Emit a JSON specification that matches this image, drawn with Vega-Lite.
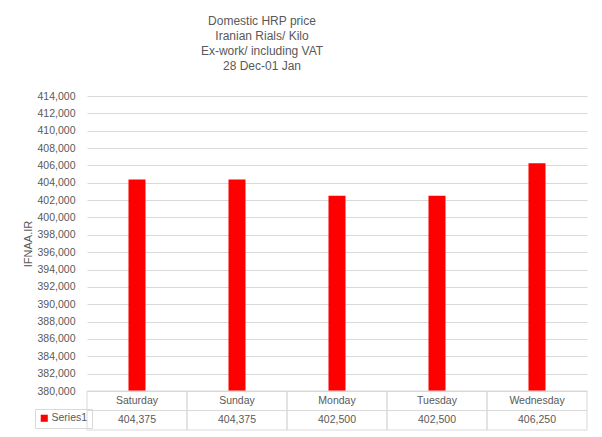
{
  "$schema": "https://vega.github.io/schema/vega-lite/v6.json",
  "background": "white",
  "autosize": {"type": "pad"},
  "padding": {"left": 22, "top": 15, "right": 14, "bottom": 7},
  "bounds": "flush",
  "title": {
    "text": ["Domestic HRP price", "Iranian Rials/ Kilo", "Ex-work/ including VAT", "28 Dec-01 Jan"],
    "font": "Liberation Sans",
    "fontSize": 12,
    "fontWeight": "normal",
    "color": "#595959",
    "lineHeight": 15,
    "offset": 18,
    "anchor": "middle",
    "frame": "group",
    "dx": -75
  },
  "data": {
    "values": [
      {"day": "Saturday", "price": 404375, "series": "Series1"},
      {"day": "Sunday", "price": 404375, "series": "Series1"},
      {"day": "Monday", "price": 402500, "series": "Series1"},
      {"day": "Tuesday", "price": 402500, "series": "Series1"},
      {"day": "Wednesday", "price": 406250, "series": "Series1"}
    ]
  },
  "spacing": 0,
  "config": {"view": {"stroke": null}},
  "vconcat": [
    {
      "width": 500,
      "height": 295,
      "mark": {"type": "bar", "width": {"band": 0.17}, "color": "#ff0000", "clip": true},
      "encoding": {
        "x": {"field": "day", "type": "nominal", "sort": null, "scale": {"paddingInner": 0, "paddingOuter": 0}, "axis": null},
        "y": {
          "field": "price",
          "type": "quantitative",
          "scale": {"domain": [380000, 414000], "zero": false, "nice": false},
          "axis": {
            "title": "IFNAA.IR",
            "titleFont": "Liberation Sans",
            "titleFontSize": 11,
            "titleFontWeight": "normal",
            "titleColor": "#595959",
            "titlePadding": 4,
            "format": ",.0f",
            "tickCount": 17,
            "labelFont": "Liberation Sans",
            "labelFontSize": 10.5,
            "labelColor": "#595959",
            "labelPadding": 12,
            "ticks": false,
            "tickSize": 0,
            "domain": false,
            "gridColor": "#d9d9d9"
          }
        },
        "color": {
          "field": "series",
          "type": "nominal",
          "scale": {"domain": ["Series1"], "range": ["#ff0000"]},
          "legend": {
            "orient": "none",
            "legendX": -52,
            "legendY": 313,
            "title": null,
            "symbolType": "square",
            "symbolSize": 50,
            "symbolStrokeWidth": 0,
            "labelFont": "Liberation Sans",
            "labelFontSize": 10.5,
            "labelColor": "#595959",
            "labelOffset": 2,
            "strokeColor": "#d9d9d9",
            "padding": 4
          }
        }
      }
    },
    {
      "width": 500,
      "height": 39,
      "encoding": {
        "x": {
          "field": "day",
          "type": "nominal",
          "sort": null,
          "scale": {"paddingInner": 0, "paddingOuter": 0},
          "axis": null
        }
      },
      "layer": [
        {
          "mark": {"type": "rect", "fill": null, "fillOpacity": 0, "stroke": "#d9d9d9", "strokeWidth": 1},
          "encoding": {
            "y": {
              "datum": "header",
              "type": "nominal",
              "scale": {"domain": ["header", "Series1"], "paddingInner": 0, "paddingOuter": 0},
              "axis": null
            }
          }
        },
        {
          "mark": {"type": "rect", "fill": null, "fillOpacity": 0, "stroke": "#d9d9d9", "strokeWidth": 1},
          "encoding": {
            "y": {"datum": "Series1", "type": "nominal"}
          }
        },
        {
          "mark": {"type": "text", "font": "Liberation Sans", "fontSize": 10.5, "color": "#595959", "baseline": "middle"},
          "encoding": {
            "y": {"datum": "header", "type": "nominal"},
            "text": {"field": "day"}
          }
        },
        {
          "mark": {"type": "text", "font": "Liberation Sans", "fontSize": 10.5, "color": "#595959", "baseline": "middle"},
          "encoding": {
            "y": {"datum": "Series1", "type": "nominal"},
            "text": {"field": "price", "type": "quantitative", "format": ","}
          }
        }
      ]
    }
  ]
}
